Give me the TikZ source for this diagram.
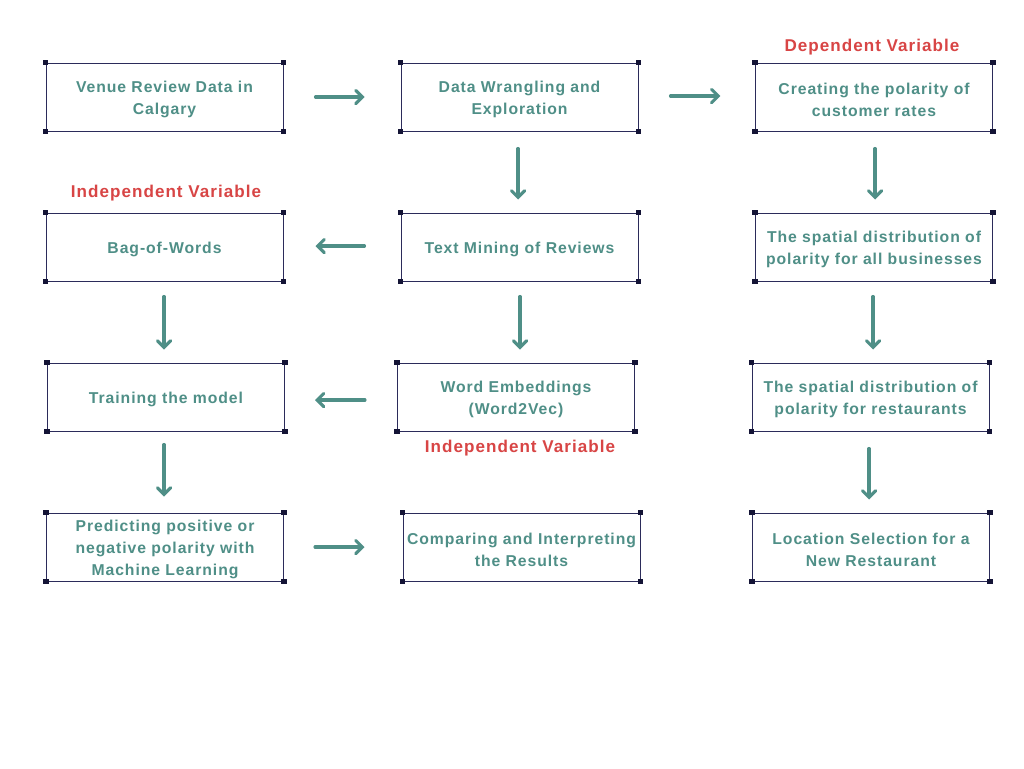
\documentclass[tikz,border=0pt]{standalone}
\usepackage{fontspec}
\setmainfont{Liberation Sans}
\newfontfamily\boxfont[LetterSpace=6]{Liberation Sans}
\usetikzlibrary{arrows.meta}
\definecolor{teal1}{HTML}{4F8F87}
\definecolor{redlab}{HTML}{D84545}
\definecolor{navy}{HTML}{2B2B5A}
\definecolor{corner}{HTML}{141436}
\newcommand{\topstrut}{\rule{0pt}{12.8pt}}
\newcommand{\onestrut}{\rule{0pt}{12.8pt}}
\tikzset{
  box/.style={draw=navy, line width=0.75pt, minimum width=177.75pt, minimum height=51pt,
    inner sep=0pt, align=center, text=teal1, font=\boxfont\bfseries\fontsize{11.8}{16.5}\selectfont},
  lab/.style={text=redlab, font=\boxfont\bfseries\fontsize{12.8}{15}\selectfont},
  flow/.style={draw=teal1, line width=2.3pt, line cap=round,
    -{Straight Barb[length=5pt,width=10pt,line cap=round]}},
}
\begin{document}
\begin{tikzpicture}[x=0.75pt,y=-0.75pt]
\fill[white] (0,0) rectangle (1024,768);
\useasboundingbox (0,0) rectangle (1024,768);
\node[box] (A) at (164.5,97) {\topstrut Venue Review Data in\\Calgary};
\node[box] (B) at (519.5,97) {\topstrut Data Wrangling and\\Exploration};
\node[box] (C) at (874,97) {\topstrut Creating the polarity of\\customer rates};
\node[box] (D) at (164.5,247) {\onestrut Bag-of-Words};
\node[box] (E) at (519.5,247) {\onestrut Text Mining of Reviews};
\node[box] (F) at (874,247) {\topstrut The spatial distribution of\\polarity for all businesses};
\node[box] (G) at (166,397) {\onestrut Training the model};
\node[box] (H) at (516,397) {\topstrut Word Embeddings\\(Word2Vec)};
\node[box] (I) at (870.5,397) {\topstrut The spatial distribution of\\polarity for restaurants};
\node[box] (J) at (165,547) {\topstrut Predicting positive or\\negative polarity with\\Machine Learning};
\node[box] (K) at (521.5,547) {\topstrut Comparing and Interpreting\\the Results};
\node[box] (L) at (871,547) {\topstrut Location Selection for a\\New Restaurant};
\foreach \n in {A,B,C,D,E,F,G,H,I,J,K,L}{
  \foreach \c in {north west,north east,south west,south east}{
    \fill[corner] ([xshift=-2.2pt,yshift=-2.2pt]\n.\c) rectangle ([xshift=2.2pt,yshift=2.2pt]\n.\c);
  }
}
\node[lab] (dep) at (872,47) {Dependent Variable};
\node[lab] (ind1) at (166,193) {Independent Variable};
\node[lab] (ind2) at (520,448) {Independent Variable};
\draw[flow, shorten <=24pt, shorten >=27pt] (A.east) -- (A.east -| B.west);
\draw[flow, shorten <=24pt, shorten >=26pt] (B.east |- 0,96) -- (C.west |- 0,96);
\draw[flow, shorten <=27pt, shorten >=24pt] (E.west |- 0,246) -- (D.east |- 0,246);
\draw[flow, shorten <=24pt, shorten >=22.5pt] (H.west |- 0,400) -- (G.east |- 0,400);
\draw[flow, shorten <=23.25pt, shorten >=28.5pt] (J.east) -- (J.east -| K.west);
\draw[flow, shorten <=12.75pt, shorten >=9.75pt] (B.south -| 518,0) -- (E.north -| 518,0);
\draw[flow, shorten <=12.75pt, shorten >=9.75pt] (C.south -| 875,0) -- (F.north -| 875,0);
\draw[flow, shorten <=11.25pt, shorten >=9.75pt] (D.south -| 164,0) -- (G.north -| 164,0);
\draw[flow, shorten <=11.25pt, shorten >=9.75pt] (E.south -| 520,0) -- (H.north -| 520,0);
\draw[flow, shorten <=11.25pt, shorten >=9.75pt] (F.south -| 873,0) -- (I.north -| 873,0);
\draw[flow, shorten <=9.75pt, shorten >=12pt] (G.south -| 164,0) -- (J.north -| 164,0);
\draw[flow, shorten <=12.75pt, shorten >=9.75pt] (I.south -| 869,0) -- (L.north -| 869,0);
\end{tikzpicture}
\end{document}
